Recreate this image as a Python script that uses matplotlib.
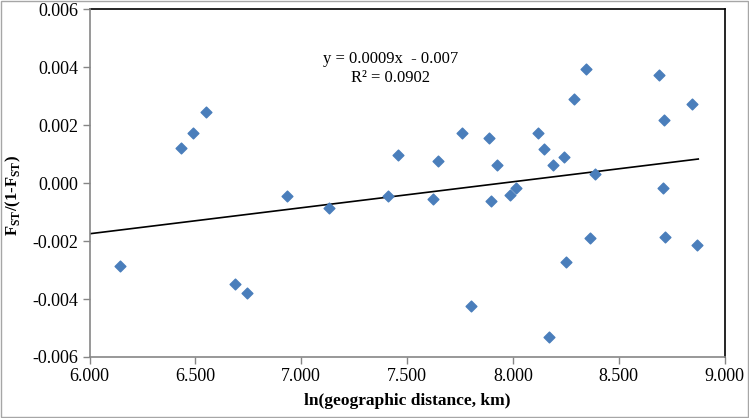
import numpy as np
import matplotlib
matplotlib.use("Agg")
import matplotlib.pyplot as plt
from matplotlib.patches import Rectangle

plt.rcParams["font.family"] = ["Liberation Serif", "DejaVu Serif"]
plt.rcParams["mathtext.fontset"] = "custom"
plt.rcParams["mathtext.rm"] = "Liberation Serif"
plt.rcParams["mathtext.bf"] = "Liberation Serif:bold"
plt.rcParams["axes.unicode_minus"] = False

# ln(geographic distance, km) vs Fst/(1-Fst)
ln_dist = [6.146, 6.432, 6.490, 6.549, 6.689, 6.744, 6.932, 7.133, 7.412,
           7.457, 7.623, 7.646, 7.760, 7.802, 7.889, 7.895, 7.924, 7.988,
           8.013, 8.120, 8.149, 8.169, 8.191, 8.243, 8.252, 8.290, 8.346,
           8.366, 8.387, 8.691, 8.711, 8.714, 8.720, 8.848, 8.871]
fst = [-2.857, 1.204, 1.722, 2.457, -3.478, -3.789, -0.442, -0.856, -0.442,
       0.973, -0.535, 0.766, 1.743, -4.249, 1.549, -0.626, 0.617, -0.419,
       -0.177, 1.722, 1.180, -5.318, 0.638, 0.904, -2.708, 2.895, 3.930,
       -1.903, 0.328, 3.723, -0.154, 2.181, -1.857, 2.723, -2.144]
fst = [v / 1000 for v in fst]

# trend line as drawn in the picture (label rounds it)
trend_slope = 0.000897
trend_intercept = -0.00713
trend_x = [6.0, 8.876]

x_ticks = [6.0, 6.5, 7.0, 7.5, 8.0, 8.5, 9.0]
y_ticks = [-0.006, -0.004, -0.002, 0.0, 0.002, 0.004, 0.006]

eq_text = "y = 0.0009x  - 0.007\nR\u00b2 = 0.0902"

fig = plt.figure(figsize=(7.49, 4.18), dpi=100)
ax = fig.add_axes([0.1195, 0.146, 0.8478, 0.8318])

# chart area border
fig.patches.append(Rectangle((0.001, 0.002), 0.997, 0.996, transform=fig.transFigure,
                             fill=False, edgecolor="#a6a6a6", linewidth=1.0))

ax.scatter(ln_dist, fst, marker="D", s=30, color="#4a7ebb", zorder=3)

xs = np.array(trend_x)
ax.plot(xs, trend_slope * xs + trend_intercept, color="black", linewidth=1.2, zorder=2)

ax.text(7.424, 0.00394, eq_text, ha="center", va="center", fontsize=12,
        linespacing=1.25)

ax.set_xlim(6.0, 9.0)
ax.set_ylim(-0.006, 0.006)
ax.set_xticks(x_ticks)
ax.set_yticks(y_ticks)
ax.set_xticklabels([f"{v:.3f}" for v in x_ticks], fontsize=13)
ax.set_yticklabels([f"{v:.3f}" for v in y_ticks], fontsize=13)

for side in ["top", "right"]:
    ax.spines[side].set_color("black")
    ax.spines[side].set_linewidth(1.2)
for side in ["left", "bottom"]:
    ax.spines[side].set_color("#868686")
    ax.spines[side].set_linewidth(1.2)
    ax.spines[side].set_zorder(4)
ax.tick_params(direction="out", length=5, width=1, color="#868686", pad=3)

ax.set_xlabel("ln(geographic distance, km)", fontsize=12.5, fontweight="bold",
              labelpad=6)
ax.set_ylabel(r"F$_{\mathbf{ST}}$/(1-F$_{\mathbf{ST}}$)", fontsize=12,
              fontweight="bold")
ax.yaxis.set_label_coords(-0.105, 0.465)

fig.savefig("out.png", dpi=100)
